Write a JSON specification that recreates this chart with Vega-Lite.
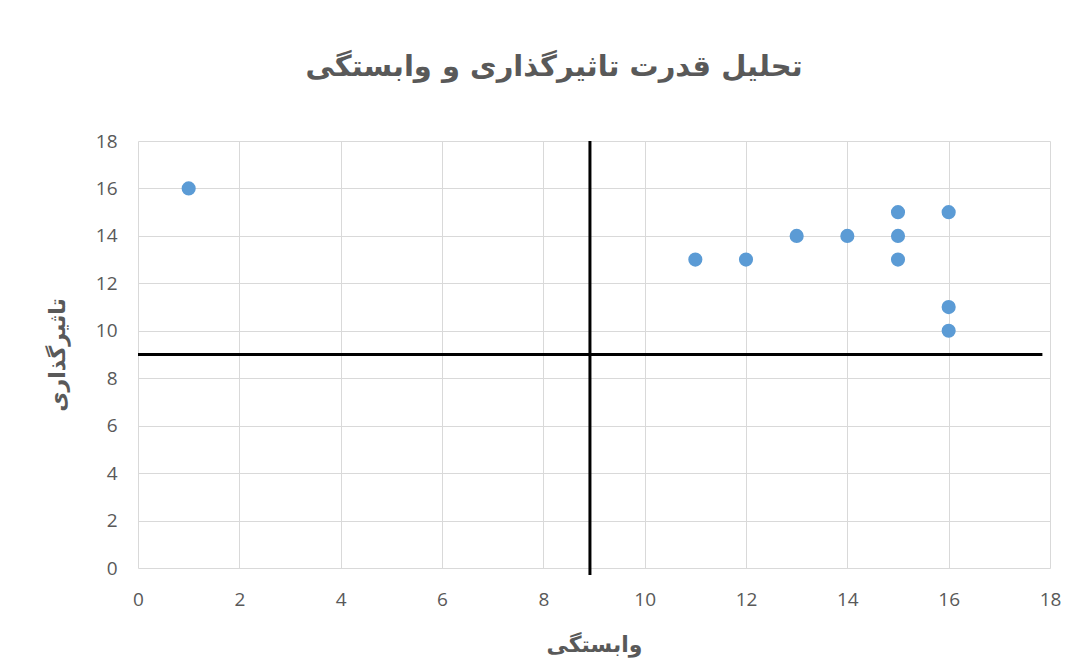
{
  "$schema": "https://vega.github.io/schema/vega-lite/v6.json",
  "width": 912,
  "height": 427,
  "autosize": {"type": "none"},
  "padding": {"left": 138, "top": 141, "right": 33, "bottom": 103},
  "background": "white",
  "title": {
    "text": "تحلیل قدرت تاثیرگذاری و وابستگی",
    "font": "DejaVu Sans",
    "fontSize": 29,
    "fontWeight": "bold",
    "color": "#595959",
    "anchor": "middle",
    "dx": -40,
    "offset": 50
  },
  "config": {
    "view": {"stroke": null},
    "axis": {
      "domain": false,
      "ticks": false,
      "gridColor": "#D9D9D9",
      "gridWidth": 1,
      "labelFont": "Open Sans",
      "labelFontSize": 19,
      "labelColor": "#595959",
      "labelFlush": false,
      "titleFont": "DejaVu Sans",
      "titleFontSize": 22,
      "titleFontWeight": "bold",
      "titleColor": "#595959"
    }
  },
  "datasets": {
    "points": [
      {"x": 1, "y": 16},
      {"x": 11, "y": 13},
      {"x": 12, "y": 13},
      {"x": 13, "y": 14},
      {"x": 14, "y": 14},
      {"x": 15, "y": 15},
      {"x": 15, "y": 14},
      {"x": 15, "y": 13},
      {"x": 16, "y": 15},
      {"x": 16, "y": 11},
      {"x": 16, "y": 10}
    ],
    "hline": [{"x": 0, "x2": 17.85, "y": 9}],
    "vline": [{"x": 8.92, "y": -0.3, "y2": 18}]
  },
  "layer": [
    {
      "data": {"name": "hline"},
      "mark": {"type": "rule", "color": "black", "strokeWidth": 3},
      "encoding": {
        "x": {"field": "x", "type": "quantitative"},
        "x2": {"field": "x2"},
        "y": {"field": "y", "type": "quantitative"}
      }
    },
    {
      "data": {"name": "vline"},
      "mark": {"type": "rule", "color": "black", "strokeWidth": 3, "clip": false},
      "encoding": {
        "x": {"field": "x", "type": "quantitative"},
        "y": {"field": "y", "type": "quantitative"},
        "y2": {"field": "y2"}
      }
    },
    {
      "data": {"name": "points"},
      "mark": {"type": "point", "filled": true, "size": 200, "color": "#5B9BD5", "opacity": 1},
      "encoding": {
        "x": {
          "field": "x", "type": "quantitative",
          "scale": {"domain": [0, 18], "nice": false, "zero": true},
          "axis": {"values": [0,2,4,6,8,10,12,14,16,18], "labelPadding": 22, "title": "وابستگی", "titlePadding": 25}
        },
        "y": {
          "field": "y", "type": "quantitative",
          "scale": {"domain": [0, 18], "nice": false},
          "axis": {"values": [0,2,4,6,8,10,12,14,16,18], "labelPadding": 21, "title": "تاثیرگذاری", "titlePadding": 26}
        }
      }
    }
  ]
}
